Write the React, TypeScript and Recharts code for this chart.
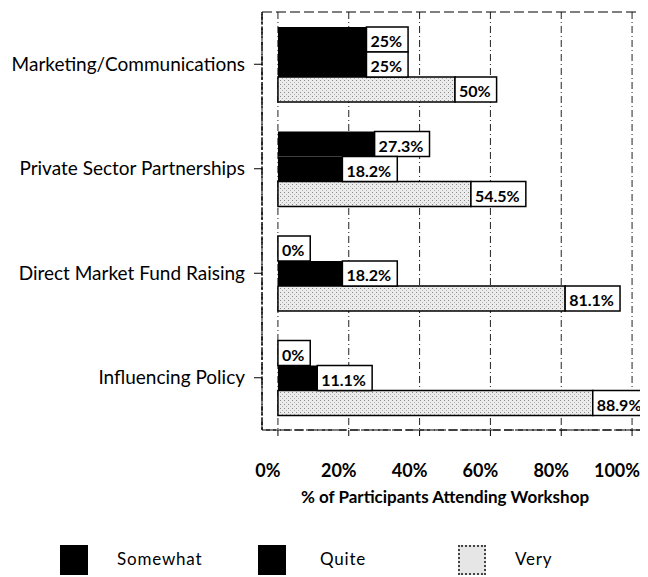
import { BarChart, Bar, XAxis, YAxis, CartesianGrid, LabelList, ReferenceArea } from "recharts";

const categories = [
  "Marketing/Communications",
  "Private Sector Partnerships",
  "Direct Market Fund Raising",
  "Influencing Policy",
];
const somewhat = [25, 27.3, 0, 0];
const quite = [25, 18.2, 18.2, 11.1];
const very = [50, 54.5, 81.1, 88.9];
const xTicks = [0, 20, 40, 60, 80, 100];

const data = categories.map((name, i) => ({
  name,
  somewhat: somewhat[i],
  quite: quite[i],
  very: very[i],
}));

const FONT = "Lato, 'Open Sans', sans-serif";

// white box with the value, sitting right after the bar end
function ValueBox(props: any) {
  const { x, y, width, height, value } = props;
  const text = `${value}%`;
  const digits = text.replace(/[^0-9]/g, "").length;
  const dots = text.split(".").length - 1;
  const w = 9 + digits * 9.3 + dots * 4 + 14;
  const bx = value === 0 ? x : x + width;
  return (
    <g>
      <rect x={bx} y={y} width={w} height={height} fill="#fff" stroke="#000" strokeWidth={1.5} />
      <text
        x={bx + 4}
        y={y + height / 2 + 1}
        dominantBaseline="central"
        fontSize={16}
        fontWeight={700}
        fontFamily={FONT}
        fill="#000"
      >
        {text}
      </text>
    </g>
  );
}

const legendItems = [
  { label: "Somewhat", box: 52, text: 109, fill: "#000", border: "2px solid #000" },
  { label: "Quite", box: 250, text: 312, fill: "#000", border: "2px solid #000" },
  { label: "Very", box: 450, text: 507, fill: "#e6e6e6", border: "2px dotted #444" },
];

export default function App() {
  return (
    <div style={{ position: "relative", width: 640, height: 569, fontFamily: FONT }}>
      <BarChart
        width={640}
        height={569}
        data={data}
        layout="vertical"
        barSize={25}
        barGap={0}
        margin={{ top: 4, right: 0, left: 0, bottom: 71 }}
      >
        <defs>
          <pattern id="stipple" width="4" height="4" patternUnits="userSpaceOnUse">
            <rect width="4" height="4" fill="#ececec" />
            <rect x="0" y="0" width="1" height="1" fill="#8a8a8a" />
            <rect x="2" y="2" width="1" height="1" fill="#b0b0b0" />
          </pattern>
        </defs>
        <CartesianGrid horizontal={false} stroke="#222" strokeDasharray="7 3 1 3" />
        <ReferenceArea x1={-4.5} x2={104.5} fill="none" stroke="#000" strokeDasharray="10 4" />
        <XAxis
          type="number"
          domain={[-4.5, 104.5]}
          ticks={xTicks}
          allowDataOverflow
          tickFormatter={(v) => `${v}%`}
          height={76}
          tickSize={6}
          tickMargin={28}
          stroke="#000"
          axisLine={{ stroke: "#000", strokeDasharray: "8 3" }}
          tick={{ fontSize: 18, fontWeight: 700, fill: "#000", fontFamily: FONT, dx: -10 }}
          label={{
            value: "% of Participants Attending Workshop",
            position: "insideBottom",
            offset: 3,
            dx: -10,
            fontSize: 17,
            fontWeight: 700,
            fill: "#000",
            fontFamily: FONT,
          }}
        />
        <YAxis
          type="category"
          dataKey="name"
          width={254}
          tickSize={8}
          tickMargin={9}
          axisLine={{ stroke: "#000", strokeDasharray: "3 2" }}
          tickLine={{ stroke: "#000" }}
          tick={{ fontSize: 19, fill: "#000", fontFamily: FONT }}
        />
        <Bar dataKey="somewhat" fill="#000" minPointSize={2} isAnimationActive={false}>
          <LabelList dataKey="somewhat" content={ValueBox} />
        </Bar>
        <Bar dataKey="quite" fill="#000" isAnimationActive={false}>
          <LabelList dataKey="quite" content={ValueBox} />
        </Bar>
        <Bar dataKey="very" fill="url(#stipple)" stroke="#000" strokeWidth={1.5} isAnimationActive={false}>
          <LabelList dataKey="very" content={ValueBox} />
        </Bar>
      </BarChart>
      {legendItems.map((it) => (
        <div key={it.label}>
          <div
            style={{
              position: "absolute",
              left: it.box,
              top: 537,
              width: 28,
              height: 30,
              background: it.fill,
              border: it.border,
              boxSizing: "border-box",
            }}
          />
          <div
            style={{
              position: "absolute",
              left: it.text,
              top: 541,
              fontSize: 17,
              letterSpacing: 0.8,
              lineHeight: "20px",
              color: "#000",
            }}
          >
            {it.label}
          </div>
        </div>
      ))}
    </div>
  );
}
